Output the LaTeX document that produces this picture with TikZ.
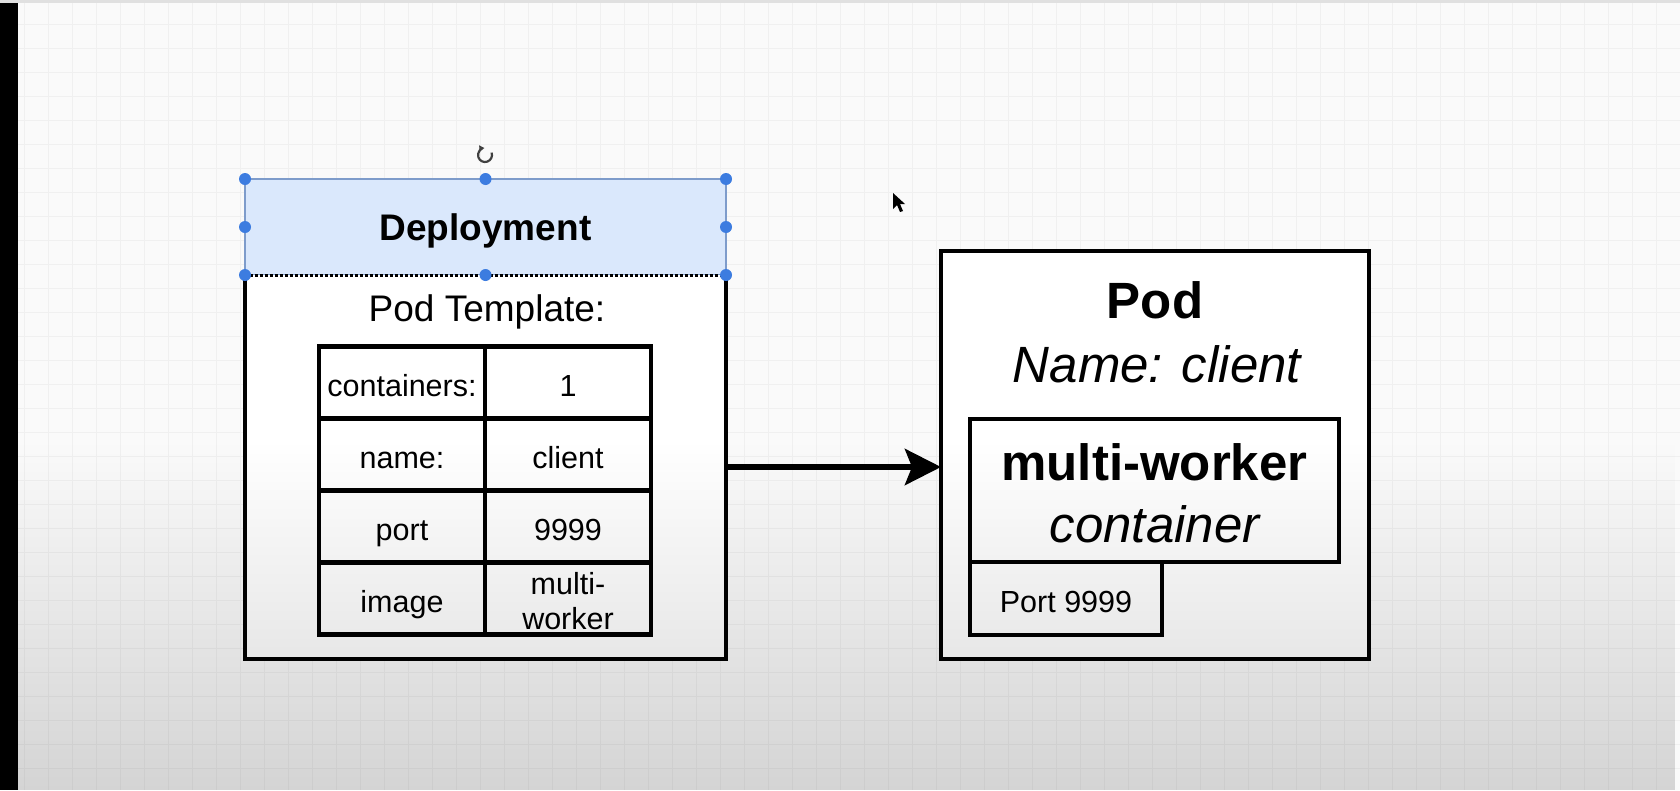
\documentclass[tikz,border=0pt]{standalone}
\usepackage{fontspec}
\setmainfont{Liberation Sans}
\usetikzlibrary{positioning,arrows.meta,fadings}
\definecolor{deployblue}{HTML}{DAE8FC}
\definecolor{selblue}{HTML}{7E9CCB}
\definecolor{handleblue}{HTML}{3C7CE0}
\definecolor{gridline}{HTML}{F0F0F0}
\tikzfading[name=fadedown, top color=transparent!100, bottom color=transparent!0]

\begin{document}
\begin{tikzpicture}[x=1pt, y=-1pt,
    boxnode/.style={rectangle, draw=black, fill=white, line width=4.5pt, outer sep=0pt, inner sep=0pt},
    cellnode/.style={rectangle, draw=black, fill=white, line width=4.5pt, outer sep=0pt, inner sep=0pt, minimum width=166pt, minimum height=72pt, text height=27pt, text depth=0pt, align=center, font=\fontsize{30.5}{35}\selectfont},
    headnode/.style={rectangle, draw=selblue, fill=deployblue, line width=2pt, outer sep=0pt, minimum width=481pt, minimum height=96pt, text height=27pt, text depth=0pt, font=\bfseries\fontsize{37}{40}\selectfont},
    handle/.style={circle, fill=handleblue, inner sep=0pt, minimum size=12pt},
    bigbold/.style={anchor=base, font=\bfseries\fontsize{51}{56}\selectfont},
    bigital/.style={anchor=base, font=\itshape\fontsize{51}{56}\selectfont}]

  \useasboundingbox (0,0) rectangle (1680,790);
  \fill[white!98!black] (0,0) rectangle (1680,790);
  \draw[gridline, line width=1pt] (0,0) grid[xstep=24pt, ystep=24pt] (1680,790);

  \node[headnode] (head) at (485.5,227) {Deployment};
  \node[fill=white, outer sep=0pt, inner sep=0pt, minimum width=481pt, minimum height=384pt, below=0pt of head] (dep) {};
  \draw[line width=4.5pt] (dep.north west) -- (dep.south west) -- (dep.south east) -- (dep.north east);
  \draw[line width=3pt, dash pattern=on 3pt off 2pt] (dep.north west) -- (dep.north east);
  \foreach \a [count=\i] in {north west,north,north east,west,east,south west,south,south east}
    \node[handle] (h\i) at (head.\a) {};
  \begin{scope}[shift={(485,155)}, y=1pt]
    \draw[line width=2.2pt, black!75, -{Triangle[length=5pt, width=6pt]}] (20:7pt) arc[start angle=20, end angle=-265, radius=7pt];
  \end{scope}

  \node[anchor=base, font=\fontsize{37}{40}\selectfont] (tmpl) at (487,321) {Pod Template:};
  \node[cellnode] (c11) at (402,382.5) {containers:};
  \node[cellnode] (c12) [right=0pt of c11] {1};
  \node[cellnode] (c21) [below=0pt of c11] {name:};
  \node[cellnode] (c22) [right=0pt of c21] {client};
  \node[cellnode] (c31) [below=0pt of c21] {port};
  \node[cellnode] (c32) [right=0pt of c31] {9999};
  \node[cellnode] (c41) [below=0pt of c31] {image};
  \node[cellnode, text height=61pt] (c42) [right=0pt of c41] {multi-\\worker};

  \node[boxnode, minimum width=428pt, minimum height=408pt] (pod) at (1155,455) {};
  \node[bigbold] (podtitle) at (1155,318) {Pod};
  \node[bigital] (podname) at (1157,382) {Name: client};
  \node[boxnode, minimum width=369pt, minimum height=143pt] (cont) at (1154.5,490.5) {};
  \node[bigbold] (contname) at (1154.5,480) {multi-worker};
  \node[bigital] (contkind) at (1154.5,542) {container};
  \node[boxnode, minimum width=192pt, minimum height=73pt, text height=27pt, text depth=0pt, font=\fontsize{30.5}{35}\selectfont, below right=0pt of cont.south west] (port) {Port 9999};

  \draw[line width=6pt, -{Stealth[length=36pt, width=36pt, inset=7pt]}] (dep.east) -- (dep.east -| pod.west);

  \fill[black] (893,193) -- (893,209) -- (897,205) -- (900,212) -- (903,211) -- (900,204) -- (905,204) -- cycle;

  \fill[black, fill opacity=0.15, path fading=fadedown] (0,440) rectangle (1680,790);
  \fill[black] (0,0) rectangle (18,790);
  \fill[black!12] (0,0) rectangle (1680,3);

\end{tikzpicture}
\end{document}
